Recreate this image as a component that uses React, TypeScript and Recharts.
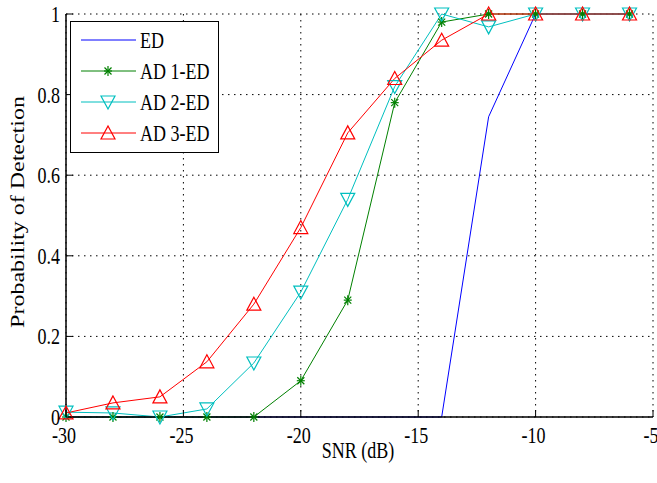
import React from "react";
import {
  LineChart,
  Line,
  XAxis,
  YAxis,
  CartesianGrid,
  Legend,
} from "recharts";

// SNR values (dB) where each curve was sampled
const snr = [-30, -28, -26, -24, -22, -20, -18, -16, -14, -12, -10, -8, -6];

// probability of detection per detector
const ed = [0, 0, 0, 0, 0, 0, 0, 0, 0, 0.745, 1, 1, 1];
const ad1 = [0, 0, 0, 0, 0, 0.09, 0.29, 0.78, 0.98, 1, 1, 1, 1];
const ad2 = [0.012, 0.01, 0, 0.02, 0.134, 0.31, 0.54, 0.82, 1, 0.968, 1, 1, 1];
const ad3 = [0.01, 0.035, 0.05, 0.137, 0.28, 0.47, 0.705, 0.84, 0.935, 1, 1, 1, 1];

const xTicks = [-30, -25, -20, -15, -10, -5];
const yTicks = [0, 0.2, 0.4, 0.6, 0.8, 1];

const data = snr.map((s, i) => ({
  snr: s,
  ed: ed[i],
  ad1: ad1[i],
  ad2: ad2[i],
  ad3: ad3[i],
}));

const BLUE = "#0000ff";
const GREEN = "#008000";
const CYAN = "#00bfbf";
const RED = "#ff0000";

// matlab export looks squeezed horizontally, so scale text on x
const font = {
  fontFamily: "'Liberation Serif', 'Times New Roman', serif",
  fontSize: 24,
  fill: "#000",
};
const TICK = 7;

const BottomTick = (props: any) => {
  const { x, y, payload } = props;
  return (
    <g>
      <line x1={x} y1={y} x2={x} y2={y - TICK} stroke="#000" />
      <text
        transform={`translate(${x - 2},${y + 26}) scale(0.75,1)`}
        textAnchor="middle"
        {...font}
      >
        {payload.value}
      </text>
    </g>
  );
};

const TopTick = (props: any) => {
  const { x, y } = props;
  return <line x1={x} y1={y} x2={x} y2={y + TICK} stroke="#000" />;
};

const LeftTick = (props: any) => {
  const { x, y, payload } = props;
  return (
    <g>
      <line x1={x} y1={y} x2={x + TICK} y2={y} stroke="#000" />
      <text
        transform={`translate(${x - 6},${y + 8}) scale(0.75,1)`}
        textAnchor="end"
        {...font}
      >
        {payload.value}
      </text>
    </g>
  );
};

const RightTick = (props: any) => {
  const { x, y } = props;
  return <line x1={x} y1={y} x2={x - TICK} y2={y} stroke="#000" />;
};

// markers
const star = (cx: number, cy: number, color: string) => (
  <g stroke={color} strokeWidth={1.2}>
    <line x1={cx} y1={cy - 5} x2={cx} y2={cy + 5} />
    <line x1={cx - 4} y1={cy} x2={cx + 4} y2={cy} />
    <line x1={cx - 3.5} y1={cy - 3.5} x2={cx + 3.5} y2={cy + 3.5} />
    <line x1={cx - 3.5} y1={cy + 3.5} x2={cx + 3.5} y2={cy - 3.5} />
  </g>
);
const triUp = (cx: number, cy: number, color: string) => (
  <polygon
    points={`${cx},${cy - 7} ${cx - 7},${cy + 6} ${cx + 7},${cy + 6}`}
    fill="none"
    stroke={color}
    strokeWidth={1.2}
  />
);
const triDown = (cx: number, cy: number, color: string) => (
  <polygon
    points={`${cx},${cy + 7} ${cx - 7},${cy - 6} ${cx + 7},${cy - 6}`}
    fill="none"
    stroke={color}
    strokeWidth={1.2}
  />
);

const makeDot =
  (shape: (cx: number, cy: number, c: string) => React.ReactElement, color: string) =>
  (props: any) => {
    const { cx, cy, index } = props;
    if (cx == null || cy == null) return <g key={index} />;
    return <g key={index}>{shape(cx, cy, color)}</g>;
  };

const legendRows = [
  { name: "ED", color: BLUE, shape: null },
  { name: "AD 1-ED", color: GREEN, shape: star },
  { name: "AD 2-ED", color: CYAN, shape: triDown },
  { name: "AD 3-ED", color: RED, shape: triUp },
];

const LegendBox = () => (
  <svg width={149} height={132} style={{ display: "block" }}>
    <rect x={0.5} y={0.5} width={148} height={131} fill="#fff" stroke="#000" />
    {legendRows.map((r, i) => {
      const cy = 19 + i * 31;
      return (
        <g key={r.name}>
          <line x1={11} y1={cy} x2={66} y2={cy} stroke={r.color} />
          {r.shape && r.shape(38, cy, r.color)}
          <text transform={`translate(70,${cy + 8}) scale(0.75,1)`} {...font}>
            {r.name}
          </text>
        </g>
      );
    })}
  </svg>
);

export default function App() {
  return (
    <div
      style={{
        position: "absolute",
        left: 0,
        top: 0,
        width: 657,
        height: 483,
        background: "#fff",
      }}
    >
      <LineChart
        width={657}
        height={483}
        data={data}
        margin={{ top: 14, right: 4, left: 6, bottom: 26 }}
      >
        <CartesianGrid
          xAxisId="bottom"
          yAxisId="left"
          stroke="#000"
          strokeDasharray="1.5 4.5"
        />
        <XAxis
          xAxisId="bottom"
          dataKey="snr"
          type="number"
          domain={[-30, -5]}
          ticks={xTicks}
          height={40}
          tickSize={0}
          tickMargin={0}
          tickLine={false}
          axisLine={{ stroke: "#000", strokeWidth: 1.5 }}
          tick={<BottomTick />}
          interval={0}
          label={{
            content: () => (
              <text transform="translate(358,458) scale(0.75,1)" textAnchor="middle" {...font}>
                SNR (dB)
              </text>
            ),
          }}
        />
        <XAxis
          xAxisId="top"
          orientation="top"
          dataKey="snr"
          type="number"
          domain={[-30, -5]}
          ticks={xTicks}
          height={0}
          tickSize={0}
          tickMargin={0}
          tickLine={false}
          axisLine={{ stroke: "#000", strokeWidth: 1.5 }}
          tick={<TopTick />}
          interval={0}
        />
        <YAxis
          yAxisId="left"
          type="number"
          domain={[0, 1]}
          ticks={yTicks}
          width={60}
          tickSize={0}
          tickMargin={0}
          tickLine={false}
          axisLine={{ stroke: "#000", strokeWidth: 1.5 }}
          tick={<LeftTick />}
          interval={0}
          label={{
            content: () => (
              <text
                transform="translate(24,212) scale(0.75,1) rotate(-90)"
                textAnchor="middle"
                {...font}
              >
                Probability of Detection
              </text>
            ),
          }}
        />
        <YAxis
          yAxisId="right"
          orientation="right"
          type="number"
          domain={[0, 1]}
          ticks={yTicks}
          width={0}
          tickSize={0}
          tickMargin={0}
          tickLine={false}
          axisLine={{ stroke: "#000", strokeWidth: 1.5 }}
          tick={<RightTick />}
          interval={0}
        />
        <Legend
          layout="vertical"
          align="center"
          verticalAlign="middle"
          wrapperStyle={{ left: 70, top: 21, width: 149, height: 132 }}
          content={() => <LegendBox />}
        />
        <Line
          xAxisId="bottom"
          yAxisId="left"
          type="linear"
          dataKey="ed"
          name="ED"
          stroke={BLUE}
          strokeWidth={1}
          dot={false}
          isAnimationActive={false}
        />
        <Line
          xAxisId="bottom"
          yAxisId="left"
          type="linear"
          dataKey="ad1"
          name="AD 1-ED"
          stroke={GREEN}
          strokeWidth={1}
          dot={makeDot(star, GREEN)}
          isAnimationActive={false}
        />
        <Line
          xAxisId="bottom"
          yAxisId="left"
          type="linear"
          dataKey="ad2"
          name="AD 2-ED"
          stroke={CYAN}
          strokeWidth={1}
          dot={makeDot(triDown, CYAN)}
          isAnimationActive={false}
        />
        <Line
          xAxisId="bottom"
          yAxisId="left"
          type="linear"
          dataKey="ad3"
          name="AD 3-ED"
          stroke={RED}
          strokeWidth={1}
          dot={makeDot(triUp, RED)}
          isAnimationActive={false}
        />
      </LineChart>
    </div>
  );
}
